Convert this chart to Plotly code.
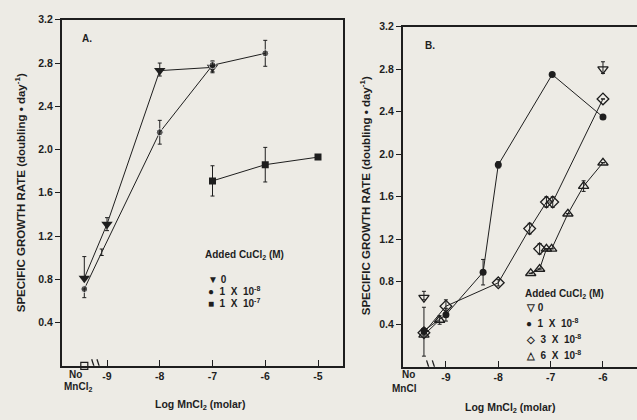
import plotly.graph_objects as go

# ---------------- Panel A data ----------------
A_tri_x = [-9.43, -9.0, -8.0, -7.0]
A_tri_y = [0.81, 1.31, 2.73, 2.76]
A_tri_ep = [0.20, 0.06, 0.07, 0.05]
A_tri_em = [0.00, 0.06, 0.05, 0.05]

A_circ_x = [-9.43, -9.1, -8.0, -7.0, -6.0]
A_circ_y = [0.71, 1.05, 2.16, 2.78, 2.89]
A_circ_ep = [0.00, 0.03, 0.11, 0.04, 0.12]
A_circ_em = [0.08, 0.03, 0.11, 0.06, 0.12]
A_circ_size = [7, 0, 7, 7, 7]

A_sq_x = [-7.0, -6.0, -5.0]
A_sq_y = [1.71, 1.86, 1.93]
A_sq_err = [0.14, 0.16, 0.0]

A_open_sq_x = [-9.43]
A_open_sq_y = [0.0]

# ---------------- Panel B data ----------------
B_tri_x = [-9.42, -6.0]
B_tri_y = [0.65, 2.80]
B_tri_ep = [0.06, 0.07]
B_tri_em = [0.02, 0.04]

B_circ_x = [-9.42, -9.0, -8.29, -8.0, -6.97, -6.0]
B_circ_y = [0.34, 0.49, 0.89, 1.90, 2.75, 2.35]
B_circ_ep = [0.22, 0.06, 0.12, 0.03, 0.0, 0.0]
B_circ_em = [0.24, 0.06, 0.12, 0.03, 0.0, 0.0]

B_dia_x = [-9.42, -9.0, -8.0, -7.4, -7.08, -6.96, -6.0]
B_dia_y = [0.32, 0.57, 0.79, 1.30, 1.55, 1.55, 2.52]
B_dia_err = [0.0, 0.06, 0.03, 0.05, 0.05, 0.05, 0.0]

B_dia2_x = [-7.21]
B_dia2_y = [1.11]
B_dia2_err = [0.05]

B_tup_x = [-9.42, -9.12, None, -7.38, -7.21, -7.08, -6.98, -6.67, -6.37, -6.0]
B_tup_y = [0.30, 0.44, None, 0.88, 0.92, 1.11, 1.11, 1.44, 1.70, 1.92]
B_tup_err = [0.0, 0.04, 0, 0.0, 0.0, 0.0, 0.0, 0.0, 0.05, 0.0]

x_tick_vals_A = [-9, -8, -7, -6, -5]
x_tick_text_A = ["-9", "-8", "-7", "-6", "-5"]
x_tick_vals_B = [-9, -8, -7, -6]
x_tick_text_B = ["-9", "-8", "-7", "-6"]
y_tick_vals = [0.4, 0.8, 1.2, 1.6, 2.0, 2.4, 2.8, 3.2]
y_tick_text = ["0.4", "0.8", "1.2", "1.6", "2.0", "2.4", "2.8", "3.2"]

INK = "#1e1e1e"
BG = "#edebe5"
FONT = "Liberation Sans"

W, H = 637, 420

def px(xp):
    return xp / W

def py(yp):
    return 1 - yp / H

fig = go.Figure()

def eb(plus, minus=None):
    d = dict(type="data", array=plus, visible=True, color=INK, thickness=1, width=2)
    if minus is not None:
        d["arrayminus"] = minus
        d["symmetric"] = False
    return d

# Panel A traces
fig.add_trace(go.Scatter(x=A_tri_x, y=A_tri_y, mode="lines+markers", xaxis="x", yaxis="y",
                         line=dict(color=INK, width=1),
                         marker=dict(symbol="triangle-down", size=10, color=INK),
                         error_y=eb(A_tri_ep, A_tri_em), showlegend=False))
fig.add_trace(go.Scatter(x=A_circ_x, y=A_circ_y, mode="lines+markers", xaxis="x", yaxis="y",
                         line=dict(color=INK, width=1),
                         marker=dict(symbol="circle", size=A_circ_size, color=INK),
                         error_y=eb(A_circ_ep, A_circ_em), showlegend=False))
fig.add_trace(go.Scatter(x=A_sq_x, y=A_sq_y, mode="lines+markers", xaxis="x", yaxis="y",
                         line=dict(color=INK, width=1),
                         marker=dict(symbol="square", size=7, color=INK),
                         error_y=eb(A_sq_err), showlegend=False))
fig.add_trace(go.Scatter(x=A_open_sq_x, y=A_open_sq_y, mode="markers", xaxis="x", yaxis="y",
                         marker=dict(symbol="square-open", size=7, color=INK, line=dict(width=1.2)),
                         cliponaxis=False, showlegend=False))

# Panel B traces
fig.add_trace(go.Scatter(x=B_tri_x, y=B_tri_y, mode="markers", xaxis="x2", yaxis="y2",
                         marker=dict(symbol="triangle-down-open", size=9, color=INK, line=dict(width=1.3)),
                         error_y=eb(B_tri_ep, B_tri_em), showlegend=False))
fig.add_trace(go.Scatter(x=B_circ_x, y=B_circ_y, mode="lines+markers", xaxis="x2", yaxis="y2",
                         line=dict(color=INK, width=1),
                         marker=dict(symbol="circle", size=7, color=INK),
                         error_y=eb(B_circ_ep, B_circ_em), showlegend=False))
fig.add_trace(go.Scatter(x=B_dia_x, y=B_dia_y, mode="lines+markers", xaxis="x2", yaxis="y2",
                         line=dict(color=INK, width=1),
                         marker=dict(symbol="diamond-open", size=9, color=INK, line=dict(width=1.3)),
                         error_y=eb(B_dia_err), showlegend=False))
fig.add_trace(go.Scatter(x=B_dia2_x, y=B_dia2_y, mode="markers", xaxis="x2", yaxis="y2",
                         marker=dict(symbol="diamond-open", size=9, color=INK, line=dict(width=1.3)),
                         error_y=eb(B_dia2_err), showlegend=False))
fig.add_trace(go.Scatter(x=B_tup_x, y=B_tup_y, mode="lines+markers", xaxis="x2", yaxis="y2",
                         line=dict(color=INK, width=1),
                         marker=dict(symbol="triangle-up-open", size=9, color=INK, line=dict(width=1.3)),
                         error_y=eb(B_tup_err), showlegend=False))

axis_common = dict(showgrid=False, zeroline=False, showline=True, linecolor=INK, linewidth=2,
                   tickfont=dict(family=FONT, size=10.5, color=INK, weight="bold"), tickcolor=INK)

fig.update_layout(
    width=W, height=H, autosize=False,
    margin=dict(l=0, r=0, t=0, b=0),
    paper_bgcolor=BG, plot_bgcolor=BG,
    showlegend=False,
    xaxis=dict(domain=[px(62), px(343)], range=[-9.853, -4.526], anchor="y",
               tickvals=x_tick_vals_A, ticktext=x_tick_text_A, ticks="inside", ticklen=6,
               mirror=True, **axis_common),
    yaxis=dict(domain=[py(365), py(14)], range=[0, 3.2], anchor="x",
               tickvals=y_tick_vals, ticktext=y_tick_text, ticks="outside", ticklen=5,
               mirror=True, **axis_common),
    xaxis2=dict(domain=[px(403), 1.0], range=[-9.82, -5.35], anchor="y2",
                tickvals=x_tick_vals_B, ticktext=x_tick_text_B, ticks="inside", ticklen=6,
                mirror=True, **axis_common),
    yaxis2=dict(domain=[py(366), py(21)], range=[0, 3.2], anchor="x2",
                tickvals=y_tick_vals, ticktext=y_tick_text, ticks="outside", ticklen=5,
                mirror=False, **axis_common),
)

# axis breaks
shapes = []
for xr, yr, xs in [("x", "y", [-9.25, -9.15]), ("x2", "y2", [-9.33, -9.22])]:
    for xc in xs:
        shapes.append(dict(type="line", xref=xr, yref=yr, x0=xc - 0.04, x1=xc + 0.04,
                           y0=0.06, y1=-0.06, line=dict(color=INK, width=1.3)))
fig.update_layout(shapes=shapes)

def ann(x, y, text, size=10, angle=0, xanchor="center", yanchor="middle", bold=True):
    fig.add_annotation(x=px(x), y=py(y), xref="paper", yref="paper", text=text, showarrow=False,
                       textangle=angle, xanchor=xanchor, yanchor=yanchor,
                       font=dict(family=FONT, size=size, color=INK, weight="bold" if bold else "normal"))

# panel letters
ann(80, 33, "A.", 10, xanchor="left")
ann(423, 40, "B.", 10, xanchor="left")

# axis titles
ytitle = "SPECIFIC GROWTH RATE (doubling • day<sup>-1</sup>)"
ann(20, 190, ytitle, 11.5, angle=-90)
ann(365, 193, ytitle, 11.5, angle=-90)
ann(200, 405, "Log MnCl<sub>2</sub> (molar)", 10.5)
ann(510, 408, "Log MnCl<sub>2</sub> (molar)", 10.5)

# "No MnCl" labels
ann(75, 374, "No", 10)
ann(78, 387, "MnCl<sub>2</sub>", 10)
ann(408, 374, "No", 10)
ann(405, 388, "MnCl", 10)

# legends (panel A)
ann(203, 253, "Added CuCl<sub>2</sub> (M)", 10, xanchor="left")
ann(206, 277, "▼ 0", 10, xanchor="left")
ann(206, 289, "●  1  X  10<sup>-8</sup>", 10, xanchor="left")
ann(206, 301, "■  1  X  10<sup>-7</sup>", 10, xanchor="left")

# legends (panel B)
ann(523, 292, "Added CuCl<sub>2</sub> (M)", 10, xanchor="left")
ann(524, 306, "▽ 0", 10, xanchor="left")
ann(524, 322, "●  1  X  10<sup>-8</sup>", 10, xanchor="left")
ann(524, 338, "◇  3  X  10<sup>-8</sup>", 10, xanchor="left")
ann(524, 354, "△  6  X  10<sup>-8</sup>", 10, xanchor="left")

fig.write_html("out.html", config={"displayModeBar": False},
               post_script="document.body.style.margin='0';document.body.style.overflow='hidden';")
